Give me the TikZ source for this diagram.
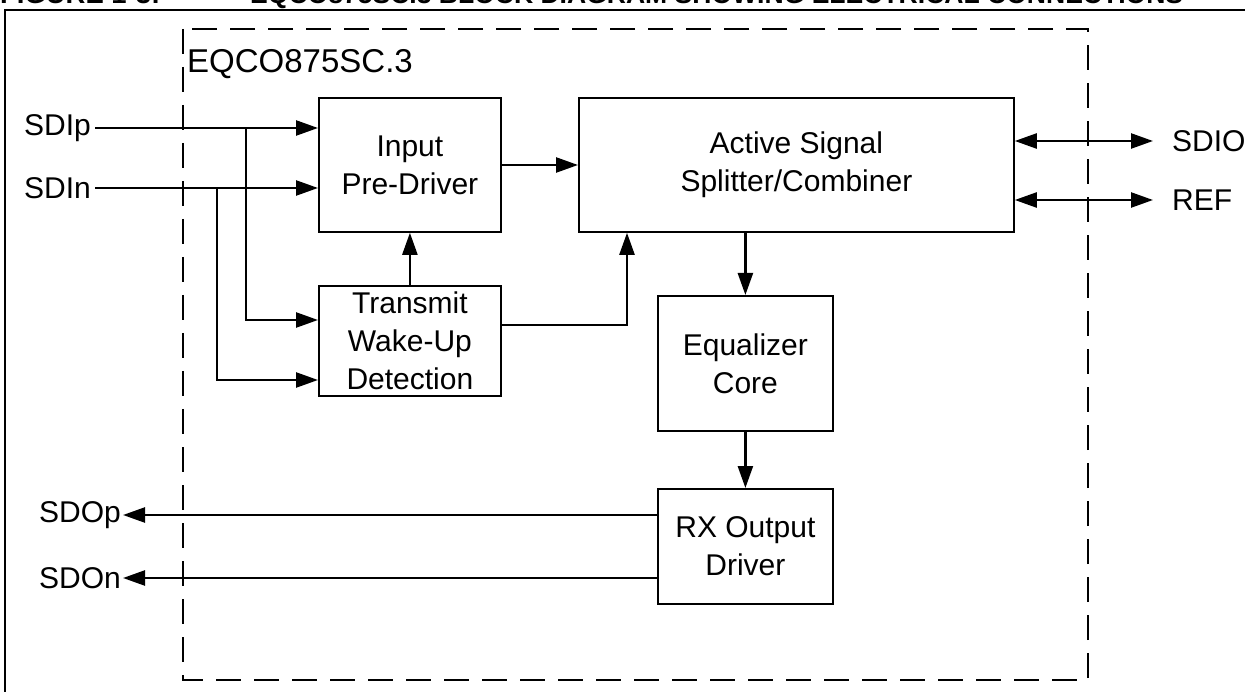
\documentclass[tikz,border=0pt]{standalone}
\usepackage{fontspec}
\setmainfont{Liberation Sans}
\usetikzlibrary{arrows.meta}
\begin{document}
\begin{tikzpicture}[x=1pt,y=-1pt,
  box/.style={draw, line width=1.8pt, inner sep=0pt, anchor=north west, align=center, font=\fontsize{30}{38}\selectfont},
  lbl/.style={inner sep=0pt, font=\fontsize{30}{36}\selectfont},
  arr/.style={line width=2.4pt, -{Triangle[length=22pt,width=15pt]}},
  arrb/.style={line width=2.4pt, {Triangle[length=22pt,width=15pt]}-{Triangle[length=22pt,width=15pt]}},
  ttlf/.style={anchor=base west, inner sep=0pt, font=\bfseries\fontsize{20}{20}\selectfont}]
\useasboundingbox (0,0) rectangle (1245,692);
% cut title
\node[ttlf] (fig) at (0,4) {\resizebox{160pt}{!}{FIGURE 1-3:}};
\node[ttlf] (ttl) at (250,4) {\resizebox{933pt}{!}{EQCO875SC.3 BLOCK DIAGRAM SHOWING ELECTRICAL CONNECTIONS}};
% frame
\draw[line width=2.2pt] (5,692) -- (5,10) -- (1245,10);
\draw[line width=1.8pt, dash pattern=on 25pt off 13pt] (183,29) rectangle (1088,680);
\node[lbl, anchor=base west, font=\fontsize{33}{36}\selectfont] (chip) at (187,73) {EQCO875SC.3};
% blocks
\node[box, minimum width=182pt, minimum height=134pt] (inp) at (318,97) {Input\\Pre-Driver};
\node[box, minimum width=435pt, minimum height=134pt] (act) at (578,97) {Active Signal\\Splitter/Combiner};
\node[box, minimum width=182pt, minimum height=110pt] (twd) at (318,285) {Transmit\\Wake-Up\\Detection};
\node[box, minimum width=175pt, minimum height=135pt] (eq) at (657,295) {Equalizer\\Core};
\node[box, minimum width=175pt, minimum height=115pt] (rx) at (657,488) {RX Output\\Driver};
% labels
\node[lbl, anchor=east] (sdip) at (91,128) {SDIp};
\node[lbl, anchor=east] (sdin) at (91,188) {SDIn};
\node[lbl, anchor=east] (sdop) at (121,515) {SDOp};
\node[lbl, anchor=east] (sdon) at (121,578) {SDOn};
\node[lbl, anchor=west] (sdio) at (1172,141) {SDIO};
\node[lbl, anchor=west] (ref) at (1172,200) {REF};
% taps
\coordinate (tp) at (246,128);
\coordinate (tn) at (217,188);
% connectors
\draw[arr] (sdip.east) ++(4,0) -- (inp.west |- sdip.east);
\draw[arr] (sdin.east) ++(4,0) -- (inp.west |- sdin.east);
\draw[arr] (tp) |- (twd.west |- 0,320);
\draw[arr] (tn) |- (twd.west |- 0,380);
\draw[arr] (inp.east |- 0,165) -- (act.west |- 0,165);
\draw[arr] (twd.north -| inp.south) -- (inp.south);
\draw[arr] (twd.east |- 0,325) -| (act.south -| 627,0);
\draw[arr] (act.south -| eq.north) -- (eq.north);
\draw[arr] (eq.south) -- (rx.north);
\draw[arr] (rx.west |- sdop.east) -- ([xshift=2pt]sdop.east);
\draw[arr] (rx.west |- sdon.east) -- ([xshift=2pt]sdon.east);
\draw[arrb] (act.east |- sdio.west) -- ([xshift=-19pt]sdio.west);
\draw[arrb] (act.east |- ref.west) -- ([xshift=-19pt]ref.west);
\end{tikzpicture}
\end{document}
